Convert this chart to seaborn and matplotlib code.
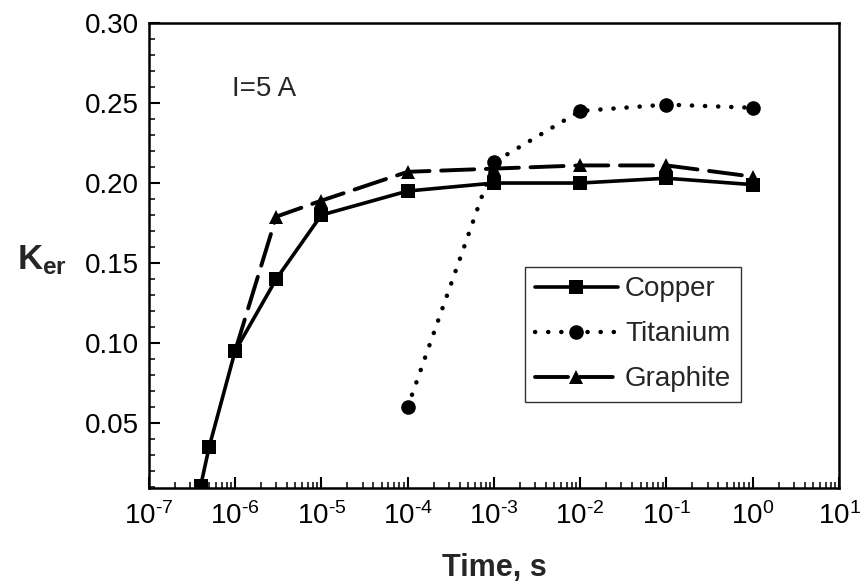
import numpy as np
import pandas as pd
import matplotlib
matplotlib.use("Agg")
import matplotlib.pyplot as plt
from matplotlib.ticker import LogLocator, FuncFormatter, MultipleLocator, NullFormatter
import seaborn as sns

copper_t = [4e-7, 5e-7, 1e-6, 3e-6, 1e-5, 1e-4, 1e-3, 1e-2, 1e-1, 1e0]
copper_k = [0.011, 0.035, 0.095, 0.140, 0.180, 0.195, 0.200, 0.200, 0.203, 0.199]

titanium_t = [1e-4, 1e-3, 1e-2, 1e-1, 1e0]
titanium_k = [0.060, 0.213, 0.245, 0.249, 0.247]

graphite_t = [1e-6, 3e-6, 1e-5, 1e-4, 1e-3, 1e-2, 1e-1, 1e0]
graphite_k = [0.095, 0.179, 0.189, 0.207, 0.209, 0.211, 0.211, 0.204]

sns.set_style("ticks")
plt.rcParams["font.family"] = ["Liberation Sans", "DejaVu Sans"]
plt.rcParams["mathtext.fontset"] = "custom"
plt.rcParams["mathtext.rm"] = "Liberation Sans"
plt.rcParams["mathtext.bf"] = "Liberation Sans:bold"
plt.rcParams["axes.unicode_minus"] = False

fig = plt.figure(figsize=(8.65, 5.88), dpi=100)
ax = fig.add_axes([0.172, 0.170, 0.798, 0.791])

series = [
    ("Copper", copper_t, copper_k, "-", "s", 2.6),
    ("Titanium", titanium_t, titanium_k, (0, (0.05, 2.9)), "o", 3.2),
    ("Graphite", graphite_t, graphite_k, (0, (8.5, 3.0)), "^", 2.8),
]
for name, t, k, ls, mk, lw in series:
    df = pd.DataFrame({"t": t, "k": k})
    sns.lineplot(data=df, x="t", y="k", ax=ax, color="black", linestyle=ls,
                 linewidth=lw, marker=mk, markersize=10.5, markeredgewidth=0,
                 dash_capstyle="round", label=name, estimator=None, sort=False)


def pow10(v, pos):
    e = int(round(np.log10(v)))
    s = str(e).replace("-", r"\text{-}")
    return r"$\mathdefault{10^{" + s + "}}$"


ax.set_xscale("log")
ax.set_xlim(1e-7, 1e1)
ax.set_ylim(0.0095, 0.30)
ax.xaxis.set_major_locator(LogLocator(base=10, numticks=20))
ax.xaxis.set_minor_locator(LogLocator(base=10, subs=np.arange(2, 10), numticks=100))
ax.xaxis.set_minor_formatter(NullFormatter())
ax.xaxis.set_major_formatter(FuncFormatter(pow10))
ax.set_yticks([0.05, 0.10, 0.15, 0.20, 0.25, 0.30])
ax.yaxis.set_minor_locator(MultipleLocator(0.01))
ax.set_yticklabels(["0.05", "0.10", "0.15", "0.20", "0.25", "0.30"])

for s in ax.spines.values():
    s.set_linewidth(1.8)
    s.set_color("black")
ax.tick_params(which="major", direction="in", length=8, width=1.5, labelsize=20,
               colors="black", pad=7)
ax.tick_params(which="minor", direction="in", length=4.5, width=1.3)
ax.tick_params(axis="x", which="major", pad=10)

ax.set_xlabel("Time, s", fontsize=22, fontweight="bold", labelpad=17)
ax.set_ylabel(r"$\mathbf{K_{er}}$", fontsize=25, rotation=0, ha="left", va="center")
ax.yaxis.set_label_coords(-0.191, 0.49)

ax.text(0.12, 0.857, "I=5 A", transform=ax.transAxes, fontsize=20, va="center")

leg = ax.legend(loc="lower left", bbox_to_anchor=(0.545, 0.185), fontsize=20,
                frameon=True, fancybox=False, edgecolor="black", handlelength=3.0,
                handletextpad=0.25, borderpad=0.35, labelspacing=0.68,
                borderaxespad=0)
leg.get_frame().set_linewidth(1.0)

fig.savefig("out.png", dpi=100)
plt.close(fig)
